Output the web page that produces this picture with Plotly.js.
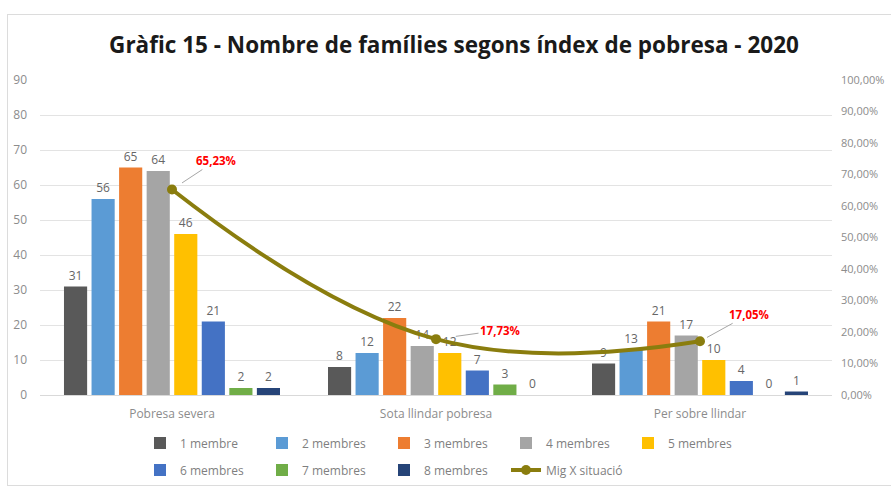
<!DOCTYPE html>
<html>
<head>
<meta charset="utf-8">
<script src="https://cdn.plot.ly/plotly-3.0.1.min.js"></script>
<style>
  body { margin: 0; background: #fff; }
  #frame { position: absolute; left: 7px; top: 14px; width: 900px; height: 470px; border: 1px solid #dcdcdc; }
  #chart { position: absolute; left: 0; top: 0; width: 891px; height: 486px; }
</style>
</head>
<body>
<div id="frame"></div>
<div id="chart"></div>
<script>
var categories = ['Pobresa severa', 'Sota llindar pobresa', 'Per sobre llindar'];

var seriesNames = ['1 membre', '2 membres', '3 membres', '4 membres', '5 membres', '6 membres', '7 membres', '8 membres'];
var m1 = [31, 8, 9];
var m2 = [56, 12, 13];
var m3 = [65, 22, 21];
var m4 = [64, 14, 17];
var m5 = [46, 12, 10];
var m6 = [21, 7, 4];
var m7 = [2, 3, 0];
var m8 = [2, 0, 1];
var seriesValues = [m1, m2, m3, m4, m5, m6, m7, m8];
var seriesColors = ['#595959', '#5B9BD5', '#ED7D31', '#A5A5A5', '#FFC000', '#4472C4', '#70AD47', '#264478'];

var migName = 'Mig X situació';
var migValues = [0.6523, 0.1773, 0.1705];

var leftTicks = [0, 10, 20, 30, 40, 50, 60, 70, 80, 90];
var rightTicks = [0, 0.1, 0.2, 0.3, 0.4, 0.5, 0.6, 0.7, 0.8, 0.9, 1];

var font = 'Open Sans, sans-serif';

var traces = seriesNames.map(function (name, i) {
    return {
        x: categories,
        y: seriesValues[i],
        name: name,
        type: 'bar',
        marker: {color: seriesColors[i]},
        texttemplate: '%{y}',
        textposition: 'outside',
        constraintext: 'none',
        cliponaxis: false,
        textfont: {family: font, size: 12, color: '#666666'},
        legend: i < 5 ? 'legend' : 'legend2',
        hoverinfo: 'skip'
    };
});

traces.push({
    x: categories,
    y: migValues,
    name: migName,
    type: 'scatter',
    mode: 'lines+markers',
    yaxis: 'y2',
    line: {color: '#8A7D0E', width: 4, shape: 'spline', smoothing: 1.2},
    marker: {color: '#8A7D0E', size: 10},
    legend: 'legend2',
    hoverinfo: 'skip'
});

// label offsets for the line's data labels
var labelOffsets = [[44, -29, 12], [64, -9, 20], [49, -27, 8]];
var annotations = categories.map(function (c, i) {
    return {
        x: c,
        y: migValues[i],
        xref: 'x',
        yref: 'y2',
        text: (migValues[i] * 100).toFixed(2).replace('.', ',') + '%',
        showarrow: true,
        arrowhead: 0,
        arrowwidth: 1,
        arrowcolor: '#a6a6a6',
        ax: labelOffsets[i][0],
        ay: labelOffsets[i][1],
        standoff: labelOffsets[i][2],
        font: {family: font, size: 11.5, color: '#FF0000', weight: 'bold'}
    };
});

var legendStyle = {
    orientation: 'h',
    xref: 'container', yref: 'container',
    x: 140 / 891, xanchor: 'left',
    yanchor: 'middle',
    entrywidth: 77,
    itemwidth: 30,
    font: {family: font, size: 12, color: '#7f7f7f'},
    bgcolor: 'rgba(0,0,0,0)'
};

var layout = {
    width: 891,
    height: 486,
    margin: {l: 40, r: 59, t: 80, b: 91},
    paper_bgcolor: 'rgba(0,0,0,0)',
    plot_bgcolor: 'rgba(0,0,0,0)',
    title: {
        text: '<b>Gràfic 15 - Nombre de famílies segons índex de pobresa - 2020</b>',
        font: {family: font, size: 22.5, color: '#1a1a1a'},
        x: 454 / 891,
        xanchor: 'center',
        y: 1 - 45 / 486,
        yanchor: 'middle'
    },
    separators: ',.',
    barmode: 'group',
    bargap: 0.165,
    bargroupgap: 0.16,
    xaxis: {
        tickfont: {family: font, size: 12, color: '#8c8c8c'},
        showline: true,
        linecolor: '#d9d9d9',
        ticks: '',
        ticklabelstandoff: 8,
        fixedrange: true
    },
    yaxis: {
        range: [0, 90],
        tickvals: leftTicks,
        tickfont: {family: font, size: 12, color: '#8c8c8c'},
        gridcolor: '#e3e3e3',
        zeroline: false,
        ticklabelstandoff: 12,
        fixedrange: true
    },
    yaxis2: {
        overlaying: 'y',
        side: 'right',
        range: [0, 1],
        tickvals: rightTicks,
        tickformat: '.2%',
        tickfont: {family: font, size: 11, color: '#8c8c8c'},
        showgrid: false,
        zeroline: false,
        ticklabelstandoff: 8,
        fixedrange: true
    },
    showlegend: true,
    legend: Object.assign({}, legendStyle, {y: 1 - 443 / 486}),
    legend2: Object.assign({}, legendStyle, {y: 1 - 470 / 486}),
    annotations: annotations
};

Plotly.newPlot('chart', traces, layout, {displayModeBar: false, staticPlot: true});
</script>
</body>
</html>
